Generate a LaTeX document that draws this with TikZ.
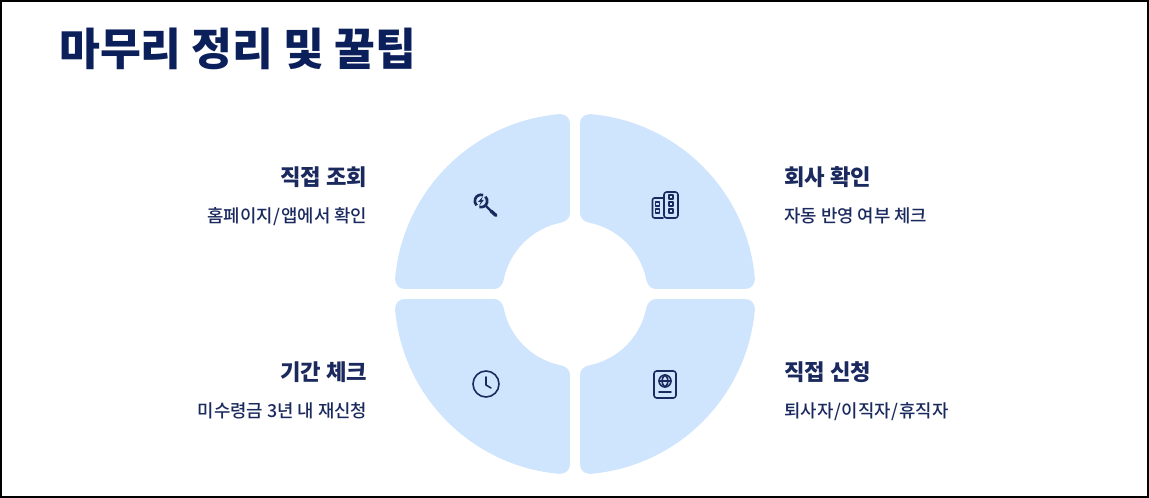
\documentclass[tikz,border=0pt]{standalone}
\usepackage{fontspec}
\setmainfont{Noto Sans CJK KR}
\newfontfamily\krmed{Noto Sans CJK KR Medium}
\newcommand{\wideslash}{\kern.55pt/\kern.55pt}
\definecolor{petal}{RGB}{207,228,253}
\definecolor{navy}{RGB}{11,31,91}
\definecolor{ink}{RGB}{27,42,94}
\tikzset{
 titletext/.style={anchor=base west,inner sep=0pt,text=navy,font=\fontsize{33.3pt}{40pt}\selectfont\bfseries},
 headl/.style={anchor=base east,inner sep=0pt,text=ink,font=\fontsize{16.7pt}{20pt}\selectfont\bfseries},
 headr/.style={anchor=base west,inner sep=0pt,text=ink,font=\fontsize{16.7pt}{20pt}\selectfont\bfseries},
 subl/.style={anchor=base east,inner sep=0pt,text=ink,font=\krmed\fontsize{13.35pt}{18pt}\selectfont},
 subr/.style={anchor=base west,inner sep=0pt,text=ink,font=\krmed\fontsize{13.35pt}{18pt}\selectfont},
 icon/.style={draw=ink,line width=2pt,line cap=butt},
 thin icon/.style={draw=ink,line width=1.2pt,line cap=round,line join=round},
}
\newcommand{\petalpath}{
 \fill[petal] (5,81) -- (5,169.5) .. controls (5,175.5) and (9,179) .. (15,179.37)
  .. controls (102.5,172.05) and (172.05,102.5) .. (179.37,15)
  .. controls (179,9) and (175.5,5) .. (169.5,5) -- (81,5)
  .. controls (76,5) and (72.4,8) .. (70.93,15)
  .. controls (64.99,43.06) and (43.06,64.99) .. (15,70.93)
  .. controls (8,72.4) and (5,76) .. (5,81) -- cycle;
}
\begin{document}
\begin{tikzpicture}[x=.75pt,y=-.75pt]
\useasboundingbox (0,0) rectangle (1149,498);
\fill[white] (0,0) rectangle (1149,498);
\draw[black,line width=1.5pt] (1,1) rectangle (1148,497);
\begin{scope}[shift={(575,294)},xscale=1.003,yscale=-1.003]\petalpath\end{scope}
\begin{scope}[shift={(575,294)},xscale=-1.003,yscale=-1.003]\petalpath\end{scope}
\begin{scope}[shift={(575,294)},xscale=1.003,yscale=1.003]\petalpath\end{scope}
\begin{scope}[shift={(575,294)},xscale=-1.003,yscale=1.003]\petalpath\end{scope}
\node[titletext] (title) at (59,66) {마무리 정리 및 꿀팁};
\node[headl] (h1) at (367.5,186) {직접 조회};
\node[subl] (s1) at (367.5,223) {홈페이지\wideslash 앱에서 확인};
\node[headr] (h2) at (784,186) {회사 확인};
\node[subr] (s2) at (784,223) {자동 반영 여부 체크};
\node[headl] (h3) at (367.5,381) {기간 체크};
\node[subl] (s3) at (367.5,418) {미수령금 3년 내 재신청};
\node[headr] (h4) at (784,381) {직접 신청};
\node[subr] (s4) at (784,418) {퇴사자\wideslash 이직자\wideslash 휴직자};
% search icon
\begin{scope}[shift={(481,201)},y=.75pt]
\draw[icon] (70:6.2) arc[start angle=70,end angle=225,radius=6.2];
\draw[icon] (255:6.2) arc[start angle=255,end angle=405,radius=6.2];
\fill[ink] (2,4.6) -- (-2.8,-0.8) -- (-0.2,-0.8) -- (-1.8,-4.8) -- (2.8,1) -- (0.3,1) -- cycle;
\end{scope}
\draw[icon,line width=1.7pt] (486,206) -- (492,212);
\draw[icon,line width=2.5pt,line cap=round] (491,211) -- (496,215.5);
% buildings
\draw[thin icon,rounded corners=2pt] (664,218) rectangle (678,192);
\draw[thin icon,rounded corners=1.5pt] (663,218) -- (652.5,218) -- (652.5,198) -- (663,198);
\foreach \wx/\wy in {671/197,671/204,671/211,657.5/204,657.5/211}
 \draw[thin icon] (\wx-2,\wy-2) rectangle (\wx+2,\wy+2);
% clock
\draw[thin icon] (486,384) circle[radius=9.75pt];
\draw[thin icon] (486,377) -- (486,385) -- (491,388);
% passport
\draw[thin icon,rounded corners=2pt] (654,371) rectangle (676,398);
\draw[thin icon] (665,381) circle[radius=4.5pt];
\draw[thin icon] (659,381) -- (671,381);
\draw[thin icon] (665,375) .. controls (661,378) and (661,384) .. (665,387);
\draw[thin icon] (665,375) .. controls (669,378) and (669,384) .. (665,387);
\draw[thin icon] (659,392) -- (671,392);
\end{tikzpicture}
\end{document}
